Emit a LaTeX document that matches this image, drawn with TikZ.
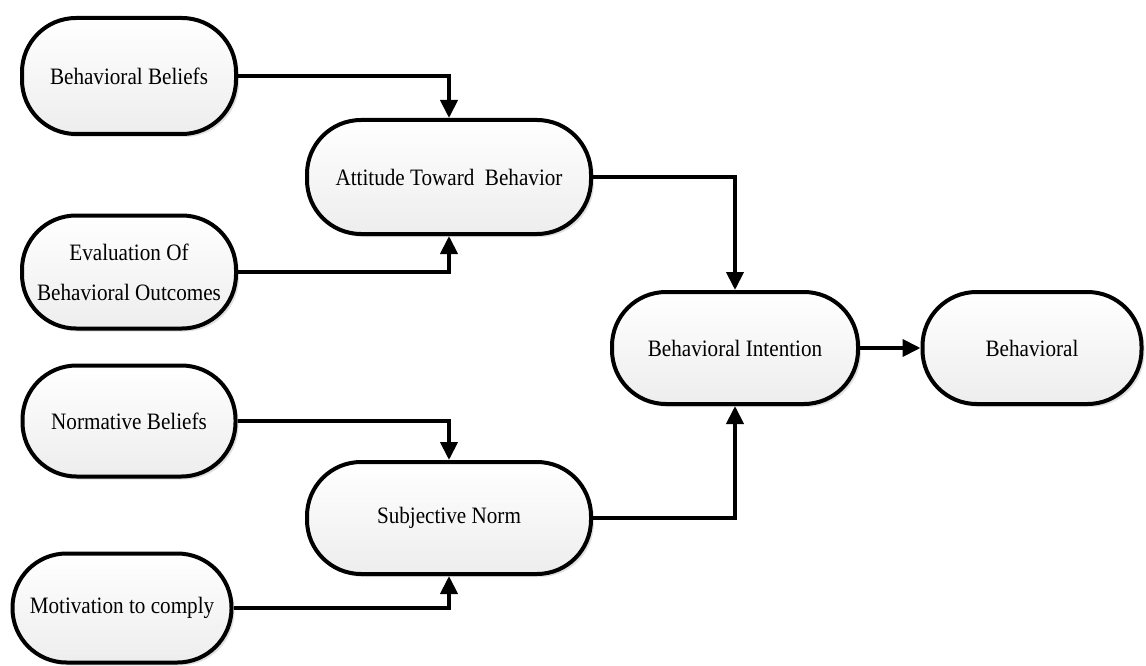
\documentclass[tikz,border=0pt]{standalone}
\usepackage{fontspec}
\setmainfont{Liberation Serif}[FakeStretch=0.9]
\usetikzlibrary{arrows.meta,shadows}
\begin{document}
\begin{tikzpicture}[x=1pt,y=-1pt,
  pill/.style={rectangle, rounded corners=54pt, draw=black, line width=4pt,
    top color=white, bottom color=black!7, align=center,
    font=\fontsize{23.5}{40}\selectfont,
    drop shadow={shadow xshift=3pt, shadow yshift=-3pt, opacity=0.2, fill=black!60}},
  link/.style={line width=4pt, -{Triangle[length=18pt,width=17pt]}}]
  \useasboundingbox (0,0) rectangle (1146,666);

  % source factors
  \node[pill, minimum width=214pt, minimum height=116pt] (bb) at (129,76) {Behavioral Beliefs};
  \node[pill, minimum width=214pt, minimum height=113pt] (ev) at (129,272) {Evaluation Of\\Behavioral Outcomes};
  \node[pill, minimum width=213pt, minimum height=111pt] (nb) at (129,421) {Normative Beliefs};
  \node[pill, minimum width=219pt, minimum height=109pt] (mc) at (122,608) {Motivation to comply};

  % intermediate constructs
  \node[pill, minimum width=284pt, minimum height=114pt] (att) at (449,177) {Attitude Toward~ Behavior};
  \node[pill, minimum width=284pt, minimum height=112pt] (sn) at (449,518) {Subjective Norm};

  % outcome
  \node[pill, minimum width=246pt, minimum height=112pt] (bi) at (735,348) {Behavioral Intention};
  \node[pill, minimum width=219pt, minimum height=112pt] (bh) at (1032,348) {Behavioral};

  % connectors
  \draw[link] (bb.east) -| (att.north);
  \draw[link] (ev.east) -| (att.south);
  \draw[link] (nb.east) -| (sn.north);
  \draw[link] (mc.east) -| (sn.south);
  \draw[link] (att.east) -| (bi.north);
  \draw[link] (sn.east) -| (bi.south);
  \draw[link] (bi.east) -- (bh.west);
\end{tikzpicture}
\end{document}
